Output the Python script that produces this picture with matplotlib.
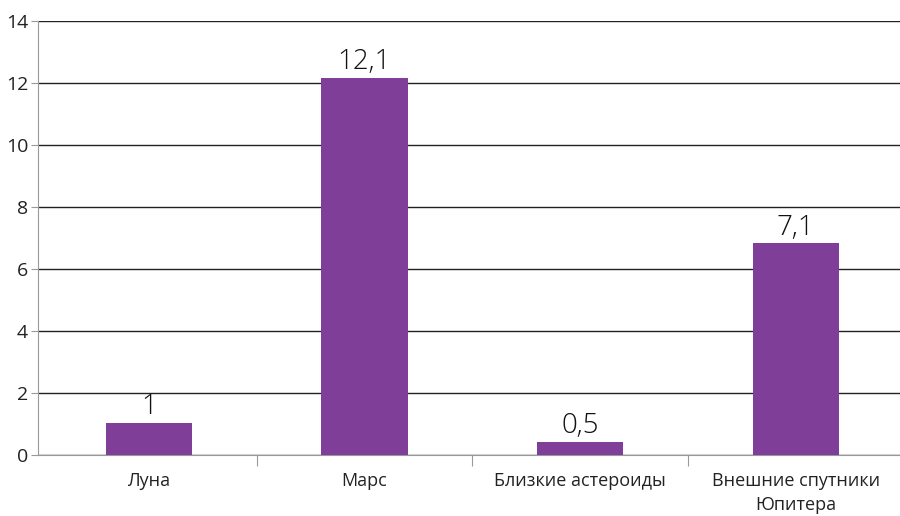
import matplotlib
matplotlib.use("Agg")
import matplotlib.pyplot as plt

kategorie = ["Луна", "Марс", "Близкие астероиды", "Внешние спутники\nЮпитера"]
vysky = [1.05, 12.18, 0.43, 6.83]
popisky = ["1", "12,1", "0,5", "7,1"]

plt.rcParams["font.family"] = ["Open Sans", "DejaVu Sans"]

fig = plt.figure(figsize=(9, 5.16), dpi=100)
ax = fig.add_axes([0.042, 0.118, 0.962, 0.841])

pozice = list(range(len(kategorie)))
ax.bar(pozice, vysky, width=0.4, color="#7F3F98", zorder=3)

for x, v, t in zip(pozice, vysky, popisky):
    ax.text(x, v + 0.05, t, ha="center", va="bottom", fontsize=20,
            fontweight="light", color="#111111")

ax.set_xlim(-0.515, len(kategorie) - 0.5)
ax.set_ylim(0, 14)
ax.set_yticks(range(0, 15, 2))
ax.yaxis.grid(True, color="#222222", linewidth=1, zorder=0)

# tick marks at category boundaries, labels in the middle
ax.set_xticks([p + 0.5 for p in pozice[:-1]])
ax.set_xticklabels([])
ax.set_xticks(pozice, minor=True)
ax.set_xticklabels(kategorie, minor=True, fontsize=13, color="#222222", linespacing=1.45)
ax.tick_params(axis="x", which="minor", length=0, pad=12)
ax.tick_params(axis="x", which="major", length=8, color="#999999", direction="out")
ax.tick_params(axis="y", length=5, color="#999999", labelsize=14, pad=2, labelcolor="#222222")

for s in ["top", "right"]:
    ax.spines[s].set_visible(False)
ax.spines["left"].set_color("#999999")
ax.spines["bottom"].set_color("#999999")

fig.savefig("out.png", dpi=100)
